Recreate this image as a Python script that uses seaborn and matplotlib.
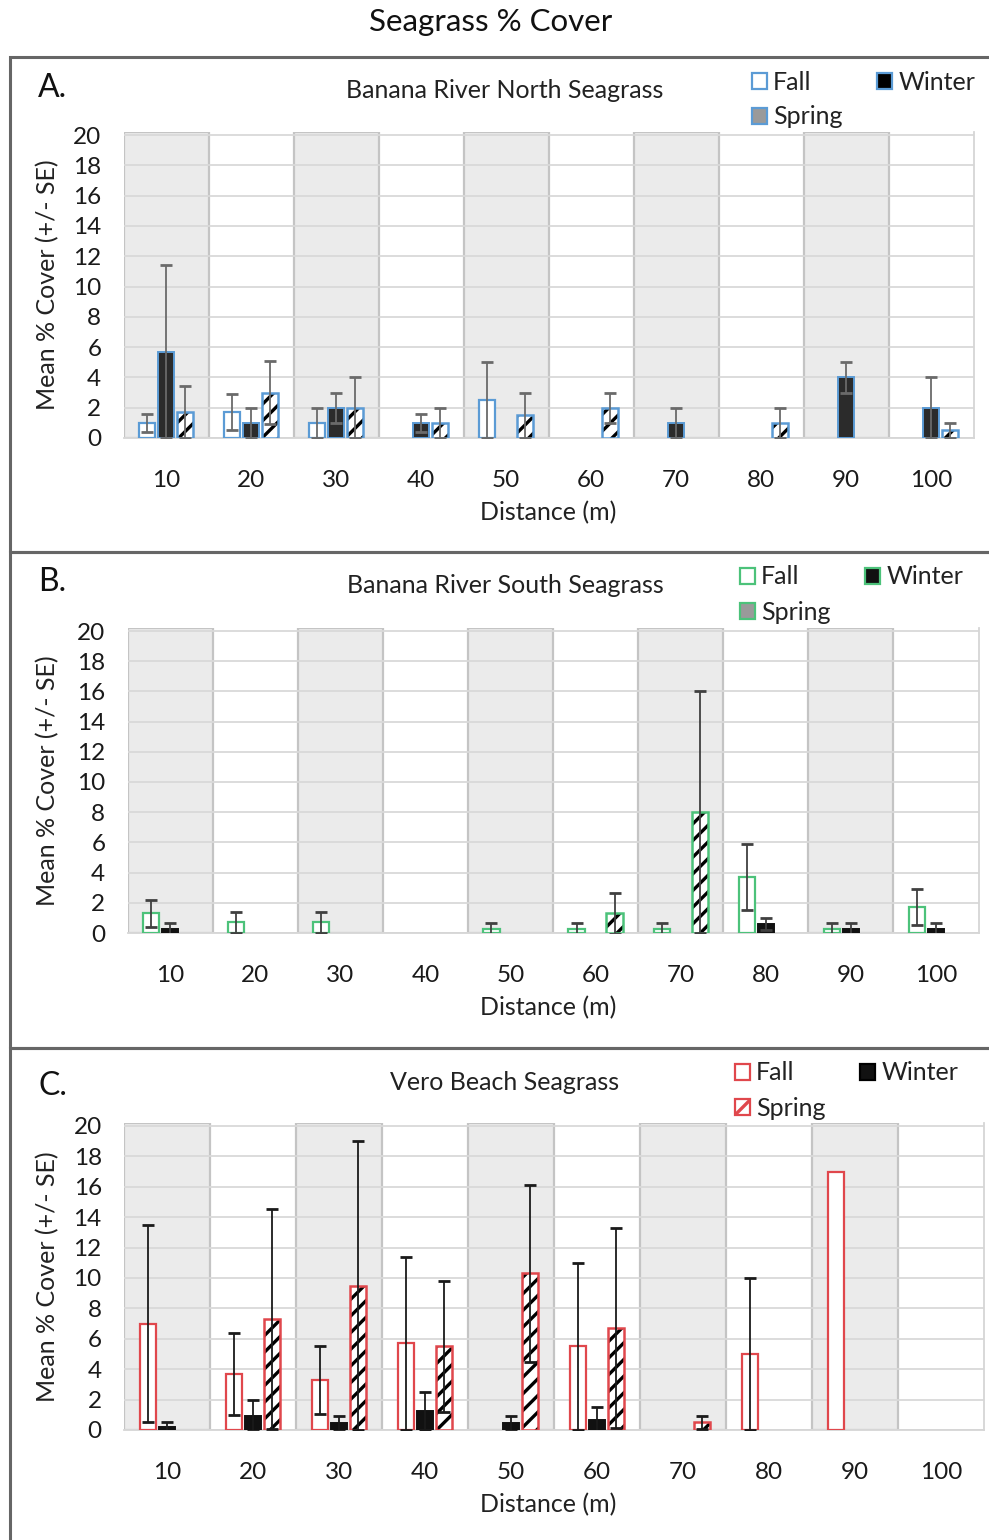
import numpy as np
import pandas as pd
import matplotlib
matplotlib.use("Agg")
import matplotlib.pyplot as plt
from matplotlib.patches import Rectangle, Patch
import seaborn as sns

# ---------------- data ----------------
distances = ["10", "20", "30", "40", "50", "60", "70", "80", "90", "100"]
seasons = ["Fall", "Winter", "Spring"]

north_fall = [1.0, 1.7, 1.0, 0, 2.5, 0, 0, 0, 0, 0]
north_fall_se = [0.6, 1.2, 1.0, 0, 2.5, 0, 0, 0, 0, 0]
north_winter = [5.7, 1.0, 2.0, 1.0, 0, 0, 1.0, 0, 4.0, 2.0]
north_winter_se = [5.7, 1.0, 1.0, 0.6, 0, 0, 1.0, 0, 1.0, 2.0]
north_spring = [1.7, 3.0, 2.0, 1.0, 1.5, 2.0, 0, 1.0, 0, 0.5]
north_spring_se = [1.7, 2.1, 2.0, 1.0, 1.5, 1.0, 0, 1.0, 0, 0.5]

south_fall = [1.3, 0.7, 0.7, 0, 0.25, 0.25, 0.25, 3.7, 0.25, 1.7]
south_fall_se = [0.9, 0.7, 0.7, 0, 0.4, 0.4, 0.4, 2.2, 0.4, 1.2]
south_winter = [0.25, 0, 0, 0, 0, 0, 0, 0.6, 0.25, 0.25]
south_winter_se = [0.4, 0, 0, 0, 0, 0, 0, 0.4, 0.4, 0.4]
south_spring = [0, 0, 0, 0, 0, 1.3, 8.0, 0, 0, 0]
south_spring_se = [0, 0, 0, 0, 0, 1.35, 8.0, 0, 0, 0]

vero_fall = [7.0, 3.7, 3.3, 5.7, 0, 5.5, 0, 5.0, 17.0, 0]
vero_fall_se = [6.5, 2.7, 2.25, 5.7, 0, 5.5, 0, 5.0, 0, 0]
vero_winter = [0.2, 0.95, 0.45, 1.25, 0.45, 0.65, 0, 0, 0, 0]
vero_winter_se = [0.35, 1.0, 0.5, 1.25, 0.5, 0.85, 0, 0, 0, 0]
vero_spring = [0, 7.3, 9.5, 5.5, 10.3, 6.7, 0.5, 0, 0, 0]
vero_spring_se = [0, 7.25, 9.5, 4.3, 5.8, 6.6, 0.45, 0, 0, 0]

title = "Seagrass % Cover"
panel_titles = ["Banana River North Seagrass", "Banana River South Seagrass", "Vero Beach Seagrass"]
panel_letters = ["A.", "B.", "C."]
ylabel = "Mean % Cover (+/- SE)"
xlabel = "Distance (m)"

# ---------------- style ----------------
sns.set_style("white")
plt.rcParams["font.family"] = ["Lato", "DejaVu Sans"]
plt.rcParams["hatch.linewidth"] = 2.4

W, H = 989, 1540
fig = plt.figure(figsize=(W / 100, H / 100), dpi=100)


def fx(x):
    return x / W


def fy(y):
    return 1 - y / H


panels = [
    dict(vals=[north_fall, north_winter, north_spring],
         ses=[north_fall_se, north_winter_se, north_spring_se],
         edge="#5b9bd5", winter="#2b2b2b", err="#6a6a6a",
         ax=(123.5, 973.5, 438, 135), frame=(57, 552),
         sub=(505, 90), letter=(38, 88),
         leg=(739, 58), spring_leg="gray"),
    dict(vals=[south_fall, south_winter, south_spring],
         ses=[south_fall_se, south_winter_se, south_spring_se],
         edge="#4cc27a", winter="#111111", err="#404040",
         ax=(127.5, 978.5, 933, 631), frame=(552, 1048),
         sub=(505, 586), letter=(38, 582),
         leg=(727, 553), spring_leg="gray"),
    dict(vals=[vero_fall, vero_winter, vero_spring],
         ses=[vero_fall_se, vero_winter_se, vero_spring_se],
         edge="#e0474c", winter="#111111", err="#1a1a1a",
         ax=(124, 984, 1430, 1126), frame=(1048, 1545),
         sub=(505, 1082), letter=(38, 1086),
         leg=(722, 1049), spring_leg="hatch"),
]

for k, pnl in enumerate(panels):
    x0, x1, y0, y20 = pnl["ax"]
    ax = fig.add_axes([fx(x0), fy(y0), (x1 - x0) / W, (y0 - y20) / H * 20.2 / 20])

    rows = []
    for s, season in enumerate(seasons):
        for d, dist in enumerate(distances):
            rows.append(dict(Distance=dist, Season=season, Cover=pnl["vals"][s][d]))
    df = pd.DataFrame(rows)

    sns.barplot(data=df, x="Distance", y="Cover", hue="Season", order=distances,
                hue_order=seasons, width=0.67, gap=0.15, errorbar=None,
                legend=False, ax=ax, zorder=3)
    bar_containers = list(ax.containers)

    for s, cont in enumerate(bar_containers):
        xs, hs, es = [], [], []
        for d, p in enumerate(cont.patches):
            h = p.get_height()
            if h <= 0:
                p.set_visible(False)
                continue
            if seasons[s] == "Fall":
                p.set_facecolor("white")
                p.set_edgecolor(pnl["edge"])
                p.set_linewidth(1.6)
            elif seasons[s] == "Winter":
                p.set_facecolor(pnl["winter"])
                p.set_edgecolor(pnl["edge"] if k == 0 else pnl["winter"])
                p.set_linewidth(1.4)
            else:
                p.set_facecolor("white")
                p.set_edgecolor("black")
                p.set_hatch("//")
                p.set_linewidth(0)
                ax.add_patch(Rectangle((p.get_x(), 0), p.get_width(), h, fill=False,
                                       edgecolor=pnl["edge"], linewidth=1.8, zorder=3.5))
            se = pnl["ses"][s][d]
            if se > 0:
                xs.append(p.get_x() + p.get_width() / 2)
                hs.append(h)
                es.append(se)
        if xs:
            ax.errorbar(xs, hs, yerr=es, fmt="none", ecolor=pnl["err"],
                        elinewidth=1.3, capsize=4, capthick=2, zorder=4)

    # alternating shaded bands
    for i in range(0, len(distances), 2):
        ax.axvspan(i - 0.5, i + 0.5, facecolor="#ebebeb", edgecolor="#c4c4c4",
                   linewidth=1.6, zorder=0.2)

    ax.set_xlim(-0.5, len(distances) - 0.5)
    ax.set_ylim(0, 20.2)
    ax.set_yticks(np.arange(0, 21, 2))
    ax.set_axisbelow(True)
    ax.yaxis.grid(True, color="#d9d9d9", linewidth=1.3)
    ax.xaxis.grid(False)
    for side in ["left", "top"]:
        ax.spines[side].set_visible(False)
    for side in ["right", "bottom"]:
        ax.spines[side].set_visible(True)
        ax.spines[side].set_color("#d6d6d6")
        ax.spines[side].set_linewidth(1.3)
    ax.tick_params(axis="y", length=0, pad=16, labelsize=17.5, labelcolor="#1a1a1a")
    ax.tick_params(axis="x", length=0, pad=23, labelsize=17.5, labelcolor="#1a1a1a")
    ax.set_ylabel(ylabel, fontsize=18, color="#222222")
    ax.yaxis.set_label_coords((48 - x0) / (x1 - x0), 0.5)
    ax.yaxis.label.set_va("center")
    ax.set_xlabel(xlabel, fontsize=18, color="#222222")
    ax.xaxis.set_label_coords((548 - x0) / (x1 - x0), -(75) / (y0 - y20) * 20 / 20.2)
    ax.xaxis.label.set_va("center")
    ax.patch.set_alpha(0)

    # panel texts
    fig.text(fx(pnl["sub"][0]), fy(pnl["sub"][1]), panel_titles[k], ha="center",
             va="center", fontsize=18, color="#222222")
    fig.text(fx(pnl["letter"][0]), fy(pnl["letter"][1]), panel_letters[k], ha="left",
             va="center", fontsize=23, color="#111111")

    # legend
    h_fall = Patch(facecolor="white", edgecolor=pnl["edge"], linewidth=1.6)
    h_win = Patch(facecolor=pnl["winter"] if k else "black",
                  edgecolor=pnl["edge"] if k < 2 else "black", linewidth=1.6)
    if pnl["spring_leg"] == "gray":
        h_spr = Patch(facecolor="#9a9a9a", edgecolor=pnl["edge"], linewidth=1.6)
    else:
        h_spr = Patch(facecolor="white", edgecolor=pnl["edge"], hatch="//", linewidth=1.6)
    fig.legend(handles=[h_fall, h_spr, h_win], labels=["Fall", "Spring", "Winter"],
               loc="upper left", bbox_to_anchor=(fx(pnl["leg"][0]), fy(pnl["leg"][1])),
               ncol=2, frameon=False, fontsize=18, handlelength=0.6, handleheight=0.6,
               handletextpad=0.25, columnspacing=1.4, labelspacing=0.48, borderpad=0,
               labelcolor="#222222")

    # panel frame
    fy0, fy1 = pnl["frame"]
    fig.add_artist(Rectangle((fx(10), fy(fy1)), fx(1000) - fx(10), fy(fy0) - fy(fy1),
                             transform=fig.transFigure, fill=False,
                             edgecolor="#666666", linewidth=2.2, zorder=0))

fig.text(fx(491), fy(22), title, ha="center", va="center", fontsize=22.5, color="#111111")

fig.savefig("out.png", dpi=100)
